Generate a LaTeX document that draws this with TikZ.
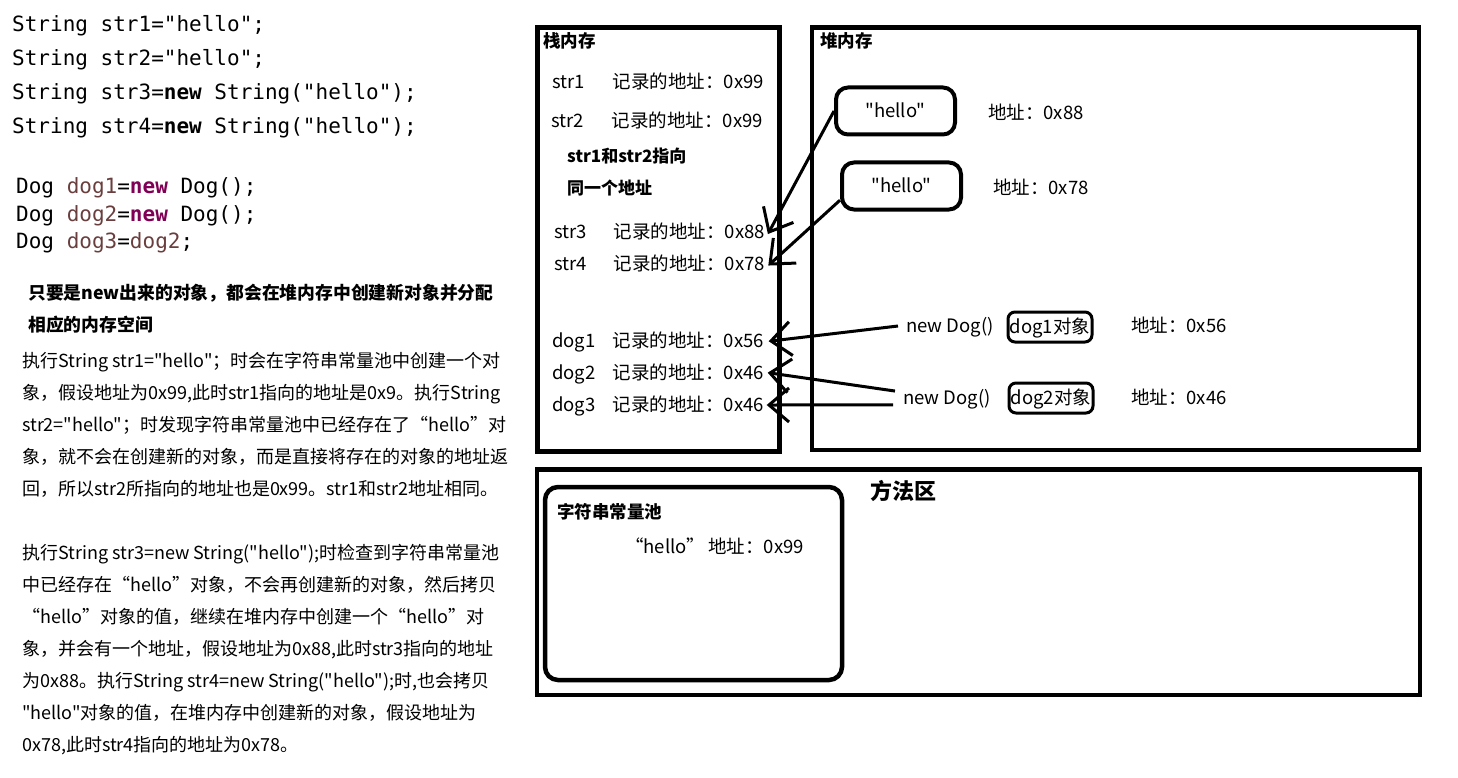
\documentclass[tikz,border=0pt]{standalone}
\usepackage{fontspec}
\setmonofont{DejaVu Sans Mono}
\newfontfamily\cjk{Noto Sans CJK SC}
\usetikzlibrary{decorations.markings}
\definecolor{localvar}{HTML}{6A3E3E}
\definecolor{keyword}{HTML}{7F0055}

\begin{document}
\begin{tikzpicture}[x = 1pt, y = -1pt,
  txt/.style = {font = \cjk\fontsize{18.5}{20}\selectfont, inner sep = 0pt, text height = 13.5pt, text depth = 0pt},
  title/.style = {txt, font = \cjk\bfseries\fontsize{17.5}{20}\selectfont},
  para/.style = {font = \cjk\fontsize{18}{32}\selectfont, align = left, inner sep = 0pt, anchor = base west},
  code/.style = {font = \ttfamily\fontsize{21}{34}\selectfont, align = left, inner sep = 0pt, anchor = base west},
  region/.style = {line width = 4.5pt},
  obj/.style = {txt, draw, line width = 4pt, rounded corners = 12pt, minimum width = 119pt, minimum height = 47pt},
  inst/.style = {txt, draw, line width = 3pt, rounded corners = 7pt, minimum width = 84pt, minimum height = 30pt},
  ref/.style = {line width = 3pt, postaction = {decorate, decoration = {markings, mark = at position 1 with {\draw[line width = 3pt] (-20, 17) -- (0, 0) -- (-20, -17);}}}}]
\useasboundingbox (0, 0) rectangle (1458, 778);

\node[code] (code1) at (12, 134) {String str1="hello";\\String str2="hello";\\String str3=\textbf{new} String("hello");\\String str4=\textbf{new} String("hello");};
\node[code, font = \ttfamily\fontsize{21}{27.5}\selectfont] (code2) at (16, 248.5) {Dog \textcolor{localvar}{dog1}=\textcolor{keyword}{\textbf{new}} Dog();\\Dog \textcolor{localvar}{dog2}=\textcolor{keyword}{\textbf{new}} Dog();\\Dog \textcolor{localvar}{dog3}=\textcolor{localvar}{dog2};};

\node[para, font = \cjk\bfseries\fontsize{17.8}{32}\selectfont] (rule) at (28, 331.5) {只要是new出来的对象，都会在堆内存中创建新对象并分配\\相应的内存空间};
\node[para] (para1) at (22, 495.5) {执行String str1="hello"；时会在字符串常量池中创建一个对\\象，假设地址为0x99,此时str1指向的地址是0x9。执行String\\str2="hello"；时发现字符串常量池中已经存在了“hello”对\\象，就不会在创建新的对象，而是直接将存在的对象的地址返\\回，所以str2所指向的地址也是0x99。str1和str2地址相同。};
\node[para] (para2) at (22, 751.5) {执行String str3=new String("hello");时检查到字符串常量池\\中已经存在“hello”对象，不会再创建新的对象，然后拷贝\\“hello”对象的值，继续在堆内存中创建一个“hello”对\\象，并会有一个地址，假设地址为0x88,此时str3指向的地址\\为0x88。执行String str4=new String("hello");时,也会拷贝\\"hello"对象的值，在堆内存中创建新的对象，假设地址为\\0x78,此时str4指向的地址为0x78。};

\draw[region] (537.5, 27.5) rectangle (779.5, 451.5);
\node[title, anchor = west] (stack) at (543, 41) {栈内存};
\node[txt, anchor = west] (str1) at (552, 82) {str1};
\node[txt, anchor = east] (addr1) at (764, 82) {记录的地址：0x99};
\node[txt, anchor = west] (str2) at (551, 121) {str2};
\node[txt, anchor = east] (addr2) at (763, 121) {记录的地址：0x99};
\node[para, font = \cjk\bfseries\fontsize{17}{32}\selectfont] (same) at (567, 194.5) {str1和str2指向\\同一个地址};
\node[txt, anchor = west] (str3) at (554, 232) {str3};
\node[txt, anchor = east] (addr3) at (765, 232) {记录的地址：0x88};
\node[txt, anchor = west] (str4) at (554, 264) {str4};
\node[txt, anchor = east] (addr4) at (765, 264) {记录的地址：0x78};
\node[txt, anchor = west] (dog1) at (552, 341) {dog1};
\node[txt, anchor = east] (addrd1) at (764, 341) {记录的地址：0x56};
\node[txt, anchor = west] (dog2) at (552, 373) {dog2};
\node[txt, anchor = east] (addrd2) at (764, 373) {记录的地址：0x46};
\node[txt, anchor = west] (dog3) at (552, 405) {dog3};
\node[txt, anchor = east] (addrd3) at (764, 405) {记录的地址：0x46};

\draw[region] (812, 27.5) rectangle (1419, 450);
\node[title, anchor = west] (heap) at (820, 41) {堆内存};
\node[obj] (hello88) at (895.5, 111) {"hello"};
\node[txt, anchor = west] (at88) at (988, 113) {地址：0x88};
\node[obj] (hello78) at (901.5, 186) {"hello"};
\node[txt, anchor = west] (at78) at (993, 188) {地址：0x78};
\node[txt, anchor = west] (newdog1) at (906, 326) {new Dog()};
\node[inst] (dog1obj) at (1050, 327) {dog1对象};
\node[txt, anchor = west] (at56) at (1131, 326) {地址：0x56};
\node[txt, anchor = west] (newdog2) at (903, 398) {new Dog()};
\node[inst] (dog2obj) at (1051, 398) {dog2对象};
\node[txt, anchor = west] (at46) at (1131, 398) {地址：0x46};

\draw[region] (537, 469.5) rectangle (1420, 695);
\node[title, anchor = west, font = \cjk\bfseries\fontsize{22}{24}\selectfont] (method) at (870, 493) {方法区};
\draw[region, rounded corners = 13pt] (545, 487) rectangle (842, 680);
\node[title, anchor = west] (pool) at (557, 512) {字符串常量池};
\node[txt, anchor = west] (at99) at (625, 547) {“hello”\,地址：0x99};

\draw[ref] (hello88.west) -- ([xshift = 4pt]addr3.east);
\draw[ref] (hello78.193) -- ([xshift = 5pt]addr4.east);
\draw[ref] ([xshift = -8pt]newdog1.west) -- ([xshift = 7pt]addrd1.east);
\draw[ref] ([xshift = -8pt]newdog2.north west) -- ([xshift = 6pt]addrd2.east);
\draw[ref] ([xshift = -10pt]newdog2.south west) -- ([xshift = 5pt]addrd3.east);
\end{tikzpicture}
\end{document}
